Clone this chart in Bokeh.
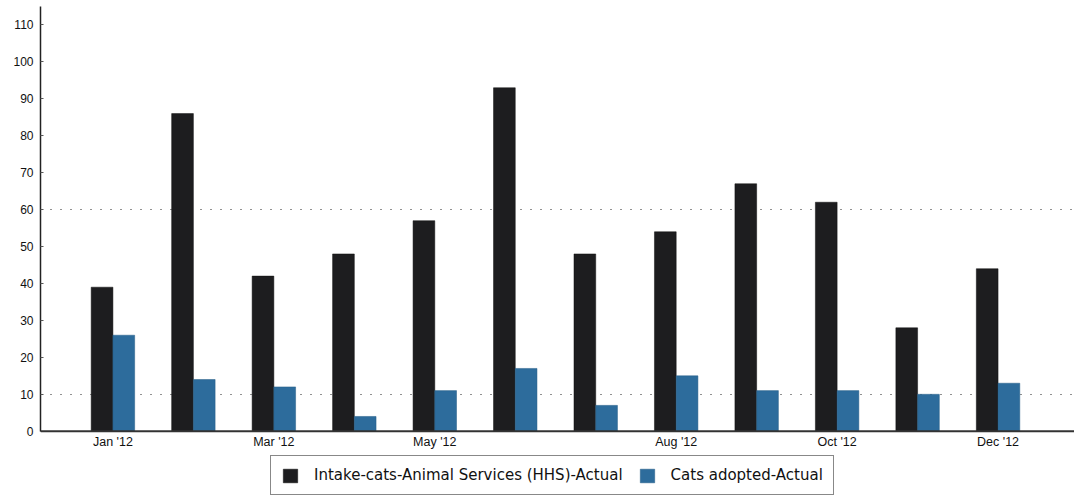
from bokeh.plotting import figure
from bokeh.models import (ColumnDataSource, FixedTicker, Range1d, Legend, LegendItem,
                          Grid, Span)
from bokeh.core.properties import value
from bokeh.transform import dodge
from bokeh.embed import file_html
from bokeh.resources import INLINE

months = ["Jan '12", "Feb '12", "Mar '12", "Apr '12", "May '12", "Jun '12",
          "Jul '12", "Aug '12", "Sep '12", "Oct '12", "Nov '12", "Dec '12"]
intake = [39, 86, 42, 48, 57, 93, 48, 54, 67, 62, 28, 44]
adopted = [26, 14, 12, 4, 11, 17, 7, 15, 11, 11, 10, 13]
labeled_months = ["Jan '12", "Mar '12", "May '12", "Aug '12", "Oct '12", "Dec '12"]
y_ticks = [0, 10, 20, 30, 40, 50, 60, 70, 80, 90, 100, 110]
series_names = ["Intake-cats-Animal Services (HHS)-Actual", "Cats adopted-Actual"]

idx = list(range(len(months)))
src = ColumnDataSource(dict(x=idx, month=months, intake=intake, adopted=adopted))
label_pos = [months.index(m) for m in labeled_months]
lab_src = ColumnDataSource(dict(x=label_pos, y=[0] * len(label_pos), text=labeled_months))

# frame covers the whole height; zero line sits where the reference axis is
p = figure(width=1074, height=495, output_backend="svg", toolbar_location=None,
           x_range=Range1d(-0.9, 11.95), y_range=Range1d(-17.4, 115),
           min_border_left=40, min_border_right=0, min_border_top=6, min_border_bottom=0)
p.outline_line_color = None
p.background_fill_color = "white"
p.border_fill_color = "white"

r1 = p.vbar(x=dodge("x", -0.135), top="intake", bottom=0, width=0.27, source=src,
            fill_color="#1d1d1f", line_color="#111111", line_width=0.5)
r2 = p.vbar(x=dodge("x", 0.135), top="adopted", bottom=0, width=0.27, source=src,
            fill_color="#2d6c9c", line_color="#245d87", line_width=0.5)

p.xgrid.grid_line_color = None
p.ygrid.grid_line_color = None
grid = Grid(dimension=1, ticker=FixedTicker(ticks=[10, 60]),
            grid_line_color="#222222", grid_line_dash="1 9", grid_line_width=1.2)
p.add_layout(grid)

# x axis drawn at zero
p.xaxis.visible = False
p.add_layout(Span(location=0, dimension="width", line_color="#333333", line_width=2))
p.text(x="x", y="y", text="text", source=lab_src, text_align="center",
       text_baseline="top", y_offset=4, text_font=value("Liberation Sans"),
       text_font_size="12.5px", text_color="#111111")

p.yaxis.ticker = FixedTicker(ticks=y_ticks)
p.yaxis.bounds = (0, 115)
p.yaxis.major_tick_in = 3
p.yaxis.major_tick_out = 0
p.yaxis.major_tick_line_color = "#555555"
p.yaxis.minor_tick_line_color = None
p.yaxis.axis_line_color = "#222222"
p.yaxis.axis_line_width = 1.5
p.yaxis.major_label_standoff = 7
p.yaxis.major_label_text_font = "Liberation Sans"
p.yaxis.major_label_text_font_size = "12px"
p.yaxis.major_label_text_color = "#111111"

legend = Legend(items=[LegendItem(label=series_names[0], renderers=[r1]),
                       LegendItem(label=series_names[1], renderers=[r2])],
                orientation="horizontal", location=(230, 0),
                label_text_font="DejaVu Sans", label_text_font_size="15px",
                label_text_color="#111111",
                glyph_width=18, glyph_height=17, label_standoff=15, spacing=15,
                padding=10, margin=0,
                border_line_color="#111111", border_line_width=1.5,
                background_fill_color="white", background_fill_alpha=1.0)
p.add_layout(legend, "center")

open("out.html", "w").write(file_html(p, INLINE))
